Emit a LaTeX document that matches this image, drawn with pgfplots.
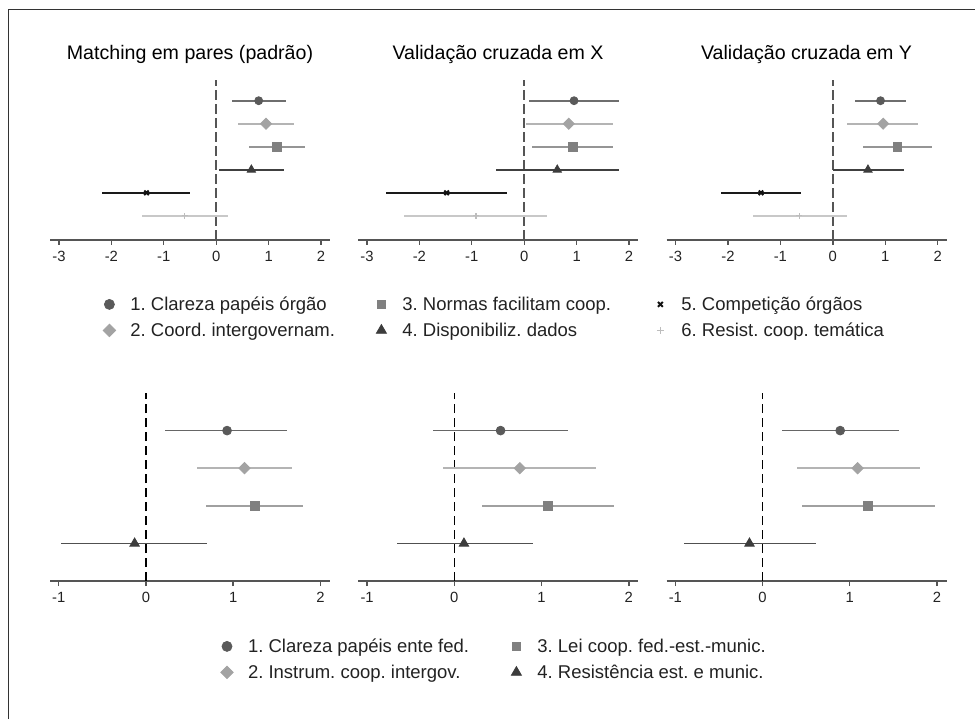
\documentclass[border=0pt]{standalone}
\usepackage{fontspec}
\setmainfont{Liberation Sans}
\usepackage{pgfplots}
\pgfplotsset{compat=1.18}
\usepackage{pgfplotstable}

\definecolor{axg}{HTML}{555555}
\definecolor{tickc}{HTML}{222222}
\definecolor{mA}{HTML}{5A5A5A}\definecolor{lA}{HTML}{6E6E6E}
\definecolor{mB}{HTML}{A3A3A3}\definecolor{lB}{HTML}{B4B4B4}
\definecolor{mC}{HTML}{808080}\definecolor{lC}{HTML}{959595}
\definecolor{mD}{HTML}{3C3C3C}\definecolor{lD}{HTML}{404040}
\definecolor{mE}{HTML}{111111}\definecolor{lE}{HTML}{1A1A1A}
\definecolor{mF}{HTML}{BDBDBD}\definecolor{lF}{HTML}{C8C8C8}
\definecolor{blA}{HTML}{666666}\definecolor{blC}{HTML}{A0A0A0}\definecolor{blD}{HTML}{505050}

% top panels: pos 6 = top row
\pgfplotstableread{
pos est lo hi
6 0.81 0.30 1.33
5 0.95 0.41 1.49
4 1.16 0.63 1.70
3 0.67 0.06 1.30
2 -1.33 -2.17 -0.50
1 -0.60 -1.42 0.23
}\tA
\pgfplotstableread{
pos est lo hi
6 0.95 0.09 1.80
5 0.85 0.03 1.70
4 0.93 0.15 1.70
3 0.63 -0.53 1.80
2 -1.48 -2.64 -0.32
1 -0.92 -2.29 0.44
}\tB
\pgfplotstableread{
pos est lo hi
6 0.91 0.43 1.40
5 0.96 0.27 1.62
4 1.23 0.57 1.90
3 0.67 0.00 1.35
2 -1.37 -2.13 -0.61
1 -0.64 -1.52 0.27
}\tC
% bottom panels: pos 4 = top row
\pgfplotstableread{
pos est lo hi
4 0.93 0.22 1.62
3 1.13 0.58 1.68
2 1.25 0.69 1.80
1 -0.13 -0.97 0.70
}\tD
\pgfplotstableread{
pos est lo hi
4 0.53 -0.24 1.30
3 0.75 -0.13 1.62
2 1.07 0.32 1.83
1 0.11 -0.66 0.90
}\tE
\pgfplotstableread{
pos est lo hi
4 0.89 0.22 1.56
3 1.09 0.39 1.80
2 1.21 0.45 1.98
1 -0.15 -0.90 0.61
}\tF

\pgfplotsset{
  table/x=est, table/y=pos,
  table/x error plus expr={\thisrow{hi}-\thisrow{est}},
  table/x error minus expr={\thisrow{est}-\thisrow{lo}},
  ci/.style 2 args={only marks, error bars/x dir=both, error bars/x explicit, error bars/error mark=none,
     error bars/error bar style={draw=#1, line width=#2, solid}},
  at row/.style={restrict y to domain={#1}},
  panel/.style={scale only axis, width=140pt, clip=false, anchor=south west,
     axis x line*=bottom, axis y line=none, ytick=\empty,
     tick align=outside, major tick length=2.5pt,
     axis line style={draw=axg, line width=0.7pt},
     every tick/.style={draw=axg, line width=0.7pt},
     xticklabel style={font=\fontsize{7.4}{8}\selectfont, text=tickc, anchor=north, inner sep=0pt, yshift=-3pt},
     title style={at={(0.5,1)}, anchor=base, yshift=4pt, font=\fontsize{9.8}{11}\selectfont, text=black, inner sep=0pt}},
  top/.style={panel, height=80pt, xmin=-3.17, xmax=2.17, ymin=-0.05, ymax=6.9,
     xtick={-3,-2,-1,0,1,2}, xticklabels={-3,-2,-1,0,1,2}},
  bot/.style={panel, height=94pt, xmin=-1.10, xmax=2.11, ymin=0, ymax=5,
     xtick={-1,0,1,2}, xticklabels={-1,0,1,2}},
  sA/.style={mark=*, mark size=2.0pt, color=mA},
  sB/.style={mark=square*, mark size=1.95pt, mark options={rotate=45}, color=mB},
  sC/.style={mark=square*, mark size=2.2pt, color=mC},
  sD/.style={mark=triangle*, mark size=2.4pt, color=mD},
  sE/.style={mark=x, mark size=1.6pt, mark options={line width=1pt}, color=mE},
  sF/.style={mark=+, mark size=1.4pt, mark options={line width=0.6pt}, color=mF},
  bA/.style={mark=*, mark size=2.2pt, color=mA},
  bB/.style={mark=square*, mark size=2.0pt, mark options={rotate=45}, color=mB},
  bC/.style={mark=square*, mark size=2.3pt, color=mC},
  bD/.style={mark=triangle*, mark size=2.7pt, color=mD},
  legax/.style={hide axis, scale only axis, width=10pt, height=10pt, xmin=0, xmax=1, ymin=0, ymax=1, anchor=north west,
     legend image code/.code={\path[draw=none, fill=none] (-6pt,-3pt) rectangle (6pt,3pt); \draw[##1] plot coordinates {(0pt,0pt)};},
     legend style={at={(0,1)}, anchor=north west, draw=none, fill=none, inner sep=0pt, row sep=4pt,
        nodes={inner sep=0pt}, cells={anchor=west},
        /tikz/every odd column/.append style={column sep=4.5pt},
        font=\fontsize{9.25}{11}\selectfont\frenchspacing, text=tickc}},
}
\newcommand{\topplots}[1]{%
  \addplot[draw=axg, line width=1pt, dash pattern=on 5pt off 2pt] coordinates {(0,-0.05) (0,6.9)};
  \addplot[sA, at row={5.9:6.1}, ci={lA}{0.95pt}] table {#1};
  \addplot[sB, at row={4.9:5.1}, ci={lB}{0.95pt}] table {#1};
  \addplot[sC, at row={3.9:4.1}, ci={lC}{0.95pt}] table {#1};
  \addplot[sD, at row={2.9:3.1}, ci={lD}{0.85pt}] table {#1};
  \addplot[sE, at row={1.9:2.1}, ci={lE}{1.25pt}] table {#1};
  \addplot[sF, at row={0.9:1.1}, ci={lF}{0.7pt}] table {#1};
}
\newcommand{\botplots}[1]{%
  \addplot[draw=black, line width=0.7pt, dash pattern=on 4.5pt off 2.5pt] coordinates {(0,0) (0,5)};
  \addplot[bA, at row={3.9:4.1}, ci={blA}{0.9pt}] table {#1};
  \addplot[bB, at row={2.9:3.1}, ci={lB}{0.9pt}] table {#1};
  \addplot[bC, at row={1.9:2.1}, ci={blC}{0.9pt}] table {#1};
  \addplot[bD, at row={0.9:1.1}, ci={blD}{0.9pt}] table {#1};
}

\begin{document}
\frenchspacing
\begin{tikzpicture}
\useasboundingbox (0,0) rectangle (487.5pt,359.5pt);
\draw[draw=black!80, line width=0.5pt] (4pt,0pt) -- (4pt,354.5pt) -- (487.5pt,354.5pt);

\begin{axis}[top, at={(25pt,239.5pt)}, title={Matching em pares (padrão)}]
\topplots{\tA}
\end{axis}
\begin{axis}[top, at={(179pt,239.5pt)}, title={Validação cruzada em X}]
\topplots{\tB}
\end{axis}
\begin{axis}[top, at={(333.3pt,239.5pt)}, title={Validação cruzada em Y}]
\topplots{\tC}
\end{axis}

\begin{axis}[bot, at={(25pt,69pt)}]
\botplots{\tD}
\end{axis}
\begin{axis}[bot, at={(179.2pt,69pt)}]
\botplots{\tE}
\end{axis}
\begin{axis}[bot, at={(333.3pt,69pt)}]
\botplots{\tF}
\end{axis}

% top legend
\begin{axis}[legax, at={(48.5pt,212pt)}]
\addlegendimage{sA, mark size=2.5pt}\addlegendentry[text height=7.6pt, text depth=1.4pt]{1. Clareza papéis órgão}
\addlegendimage{sB, mark size=2.2pt}\addlegendentry[text height=7.6pt, text depth=1.4pt]{2. Coord. intergovernam.}
\end{axis}
\begin{axis}[legax, at={(184.5pt,212pt)}]
\addlegendimage{sC, mark size=2.2pt}\addlegendentry[text height=7.6pt, text depth=1.4pt]{3. Normas facilitam coop.}
\addlegendimage{sD, mark size=2.9pt}\addlegendentry[text height=7.6pt, text depth=1.4pt]{4. Disponibiliz. dados}
\end{axis}
\begin{axis}[legax, at={(324pt,212pt)}]
\addlegendimage{sE, mark size=1.7pt}\addlegendentry[text height=7.6pt, text depth=1.4pt]{5. Competição órgãos}
\addlegendimage{sF, mark size=1.8pt}\addlegendentry[text height=7.6pt, text depth=1.4pt]{6. Resist. coop. temática}
\end{axis}

% bottom legend
\begin{axis}[legax, at={(107.3pt,41pt)}]
\addlegendimage{bA, mark size=2.5pt}\addlegendentry[text height=7.6pt, text depth=1.4pt]{1. Clareza papéis ente fed.}
\addlegendimage{bB, mark size=2.2pt}\addlegendentry[text height=7.6pt, text depth=1.4pt]{2. Instrum. coop. intergov.}
\end{axis}
\begin{axis}[legax, at={(252pt,41pt)}]
\addlegendimage{bC, mark size=2.2pt}\addlegendentry[text height=7.6pt, text depth=1.4pt]{3. Lei coop. fed.-est.-munic.}
\addlegendimage{bD, mark size=2.9pt}\addlegendentry[text height=7.6pt, text depth=1.4pt]{4. Resistência est. e munic.}
\end{axis}
\end{tikzpicture}
\end{document}
